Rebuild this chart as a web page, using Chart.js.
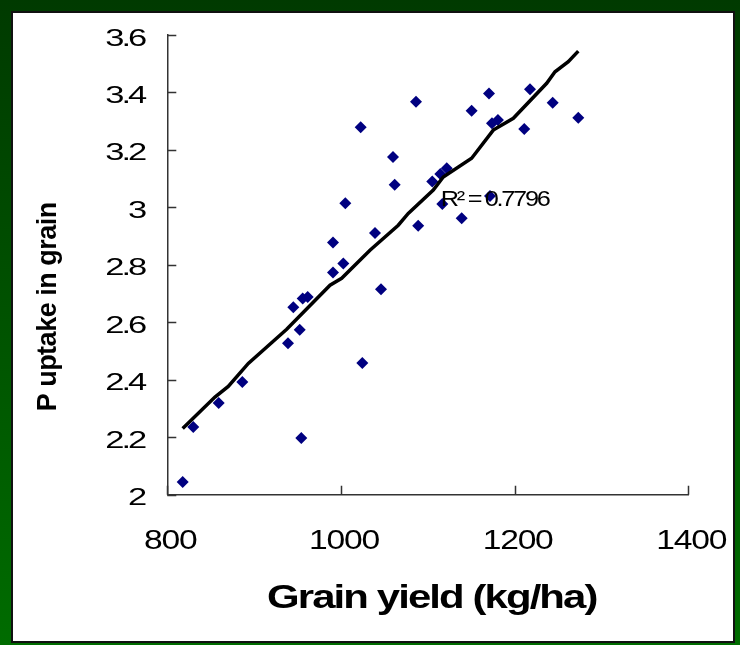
<!DOCTYPE html>
<html>
<head>
<meta charset="utf-8">
<title>P uptake vs grain yield</title>
<script src="https://cdn.jsdelivr.net/npm/chart.js@4/dist/chart.umd.min.js"></script>
<style>
  html, body { margin: 0; padding: 0; }
  body {
    width: 740px; height: 645px; position: relative; overflow: hidden;
    background: linear-gradient(#003a00, #006c00);
  }
  #panel {
    position: absolute; left: 11px; top: 11px; width: 720px; height: 628px;
    background: #fff; border: 2px solid #111;
  }
  #chart { position: absolute; left: 0; top: 0; }
</style>
</head>
<body>
<div id="panel"></div>
<canvas id="chart" width="740" height="645"></canvas>
<script>
// grain yield (kg/ha) and P uptake in grain for each plot
const yieldVals = [817.7, 829.9, 859.2, 886.4, 939.0, 945.1, 952.5, 954.3, 955.9, 961.7,
                   990.8, 990.8, 1002.7, 1005.0, 1022.7, 1024.6, 1039.2, 1046.1, 1059.9, 1061.9,
                   1086.4, 1088.9, 1105.1, 1114.4, 1121.8, 1116.7, 1139.0, 1150.5, 1170.5, 1171.6,
                   1173.9, 1180.8, 1211.1, 1217.7, 1243.8, 1273.3];
const uptakeVals = [2.044, 2.236, 2.319, 2.392, 2.527, 2.652, 2.574, 2.197, 2.683, 2.688,
                    2.773, 2.878, 2.805, 3.014, 3.279, 2.458, 2.911, 2.715, 3.175, 3.079,
                    3.368, 2.936, 3.090, 3.116, 3.136, 3.012, 2.962, 3.336, 3.396, 3.040,
                    3.293, 3.304, 3.273, 3.411, 3.364, 3.312];

// fitted line as drawn in the picture
const fitX = [817.7, 854.9, 870.2, 893.3, 937.5, 987.4, 1000.8, 1033.4, 1066.0, 1077.5,
              1106.3, 1117.8, 1150.5, 1175.4, 1198.5, 1236.9, 1246.5, 1261.8, 1273.3];
const fitY = [2.230, 2.340, 2.377, 2.457, 2.576, 2.729, 2.753, 2.851, 2.938, 2.979,
              3.060, 3.106, 3.171, 3.269, 3.310, 3.432, 3.472, 3.507, 3.544];

const xTicks = [800, 1000, 1200, 1400];
const yTicks = [2, 2.2, 2.4, 2.6, 2.8, 3, 3.2, 3.4, 3.6];
const r2Label = "R\u00b2 = 0.7796";
const xTitle = "Grain yield (kg/ha)";
const yTitle = "P uptake in grain";

// the picture's text is stretched sideways, so draw it with a horizontal scale
function stretchText(ctx, text, x, y, sx) {
    ctx.save();
    ctx.translate(x, y);
    ctx.scale(sx, 1);
    ctx.fillText(text, 0, 0);
    ctx.restore();
}

const axisDecor = {
    id: "axisDecor",
    afterDraw(chart) {
        const ctx = chart.ctx;
        const xs = chart.scales.x, ys = chart.scales.y;
        const area = chart.chartArea;

        // inward tick marks
        ctx.save();
        ctx.strokeStyle = "#333";
        ctx.lineWidth = 1.5;
        ctx.beginPath();
        ys.ticks.forEach(t => {
            const py = Math.round(ys.getPixelForValue(t.value)) + 0.5;
            ctx.moveTo(area.left, py);
            ctx.lineTo(area.left + 9, py);
        });
        xs.ticks.forEach(t => {
            const px = Math.round(xs.getPixelForValue(t.value)) + 0.5;
            ctx.moveTo(px, area.bottom);
            ctx.lineTo(px, area.bottom - 9);
        });
        ctx.stroke();

        ctx.fillStyle = "#000";
        ctx.textBaseline = "alphabetic";

        // tick labels
        ctx.font = "23px 'Liberation Sans', Arial, sans-serif";
        ctx.letterSpacing = "-2px";
        ctx.textAlign = "right";
        ys.ticks.forEach(t => {
            stretchText(ctx, String(t.value), area.left - 23, ys.getPixelForValue(t.value) + 10.5, 1.5);
        });
        ctx.font = "28px 'Liberation Sans', Arial, sans-serif";
        ctx.letterSpacing = "-1px";
        ctx.textAlign = "center";
        xs.ticks.forEach(t => {
            stretchText(ctx, String(t.value), xs.getPixelForValue(t.value) + 3, area.bottom + 54, 1.2);
        });

        // axis titles
        ctx.font = "bold 33px 'Liberation Sans', Arial, sans-serif";
        ctx.letterSpacing = "-1.5px";
        stretchText(ctx, xTitle, (area.left + area.right) / 2 + 4, area.bottom + 113, 1.27);

        ctx.save();
        ctx.translate(area.left - 111, (area.top + area.bottom) / 2 + 42);
        ctx.rotate(-Math.PI / 2);
        ctx.font = "bold 27px 'Liberation Sans', Arial, sans-serif";
        ctx.letterSpacing = "-0.5px";
        ctx.fillText(yTitle, 0, 0);
        ctx.restore();

        // R squared label next to the line
        ctx.font = "22px 'Liberation Sans', Arial, sans-serif";
        ctx.letterSpacing = "-2px";
        ctx.textAlign = "left";
        stretchText(ctx, r2Label, xs.getPixelForValue(1115), ys.getPixelForValue(3.004), 1.15);
        ctx.restore();
    }
};

new Chart(document.getElementById("chart"), {
    type: "scatter",
    data: {
        datasets: [
            {
                label: "Fit",
                type: "line",
                data: fitX.map((x, i) => ({ x: x, y: fitY[i] })),
                borderColor: "#000",
                borderWidth: 3.5,
                pointRadius: 0,
                fill: false,
                tension: 0,
                order: 0
            },
            {
                label: "P uptake",
                data: yieldVals.map((x, i) => ({ x: x, y: uptakeVals[i] })),
                pointStyle: "rectRot",
                pointRadius: 6,
                pointHoverRadius: 6,
                backgroundColor: "#000080",
                borderColor: "#000080",
                borderWidth: 0,
                order: 1
            }
        ]
    },
    options: {
        responsive: false,
        animation: false,
        layout: { padding: { left: 157.3, right: 51.7, top: 35, bottom: 140.3 } },
        plugins: { legend: { display: false }, tooltip: { enabled: false } },
        scales: {
            x: {
                type: "linear",
                min: 800,
                max: 1400,
                afterBuildTicks: s => { s.ticks = xTicks.map(v => ({ value: v })); },
                afterFit: s => { s.height = 10; },
                ticks: { display: false },
                grid: { display: true, drawOnChartArea: false, drawTicks: false },
                border: { display: true, color: "#333", width: 1.5 }
            },
            y: {
                type: "linear",
                min: 2,
                max: 3.6,
                afterBuildTicks: s => { s.ticks = yTicks.map(v => ({ value: v })); },
                afterFit: s => { s.width = 10; },
                ticks: { display: false },
                grid: { display: true, drawOnChartArea: false, drawTicks: false },
                border: { display: true, color: "#333", width: 1.5 }
            }
        }
    },
    plugins: [axisDecor]
});
</script>
</body>
</html>
